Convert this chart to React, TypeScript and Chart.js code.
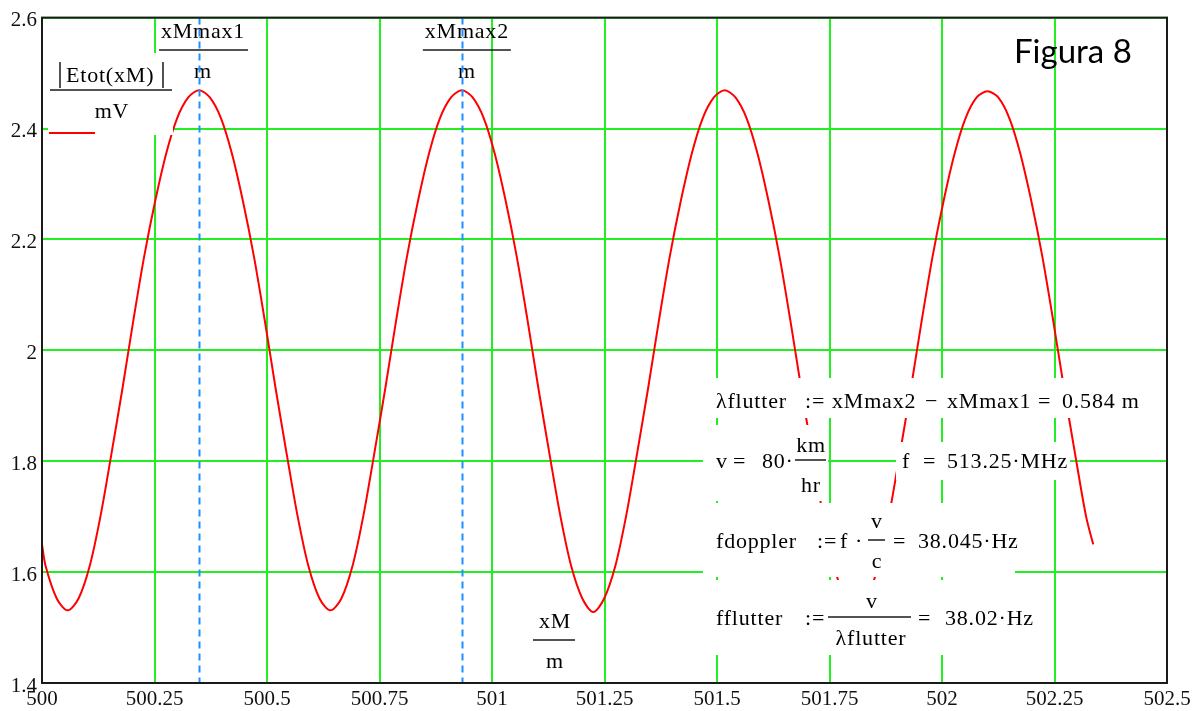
import React, { useEffect, useRef } from 'react';
import { Chart, registerables } from 'chart.js';

Chart.register(...registerables);

// Field strength |Etot(xM)| / mV along the receiver position xM / m
const xM = [
  500.0, 500.008, 500.033,
  500.057, 500.081, 500.106, 500.13, 500.154, 500.179, 500.203, 500.227, 500.252, 500.276, 500.3, 500.325,
  500.349, 500.373, 500.398, 500.422, 500.446, 500.471, 500.495, 500.519, 500.544, 500.568, 500.592, 500.617,
  500.641, 500.665, 500.69, 500.714, 500.738, 500.763, 500.787, 500.811, 500.836, 500.86, 500.884, 500.909,
  500.933, 500.957, 500.982, 501.006, 501.03, 501.055, 501.079, 501.103, 501.128, 501.152, 501.176, 501.201,
  501.225, 501.249, 501.274, 501.298, 501.322, 501.347, 501.371, 501.395, 501.42, 501.444, 501.468, 501.493,
  501.517, 501.541, 501.566, 501.59, 501.614, 501.639, 501.663, 501.687, 501.712, 501.736, 501.76, 501.785,
  501.809, 501.833, 501.858, 501.882, 501.906, 501.931, 501.955, 501.979, 502.004, 502.028, 502.052, 502.077,
  502.101, 502.125, 502.15, 502.174, 502.198, 502.223, 502.247, 502.271, 502.296, 502.32,
  502.336,
];

const etot = [
  1.65, 1.611, 1.552,
  1.531, 1.552, 1.611, 1.701, 1.812, 1.932, 2.054, 2.169, 2.271, 2.355, 2.418, 2.456,
  2.469, 2.456, 2.418, 2.355, 2.271, 2.169, 2.054, 1.932, 1.812, 1.701, 1.611, 1.552,
  1.531, 1.552, 1.611, 1.701, 1.812, 1.932, 2.054, 2.169, 2.271, 2.355, 2.418, 2.456,
  2.469, 2.456, 2.418, 2.355, 2.271, 2.169, 2.054, 1.932, 1.812, 1.701, 1.611, 1.552,
  1.528, 1.552, 1.611, 1.701, 1.812, 1.932, 2.054, 2.169, 2.271, 2.355, 2.418, 2.456,
  2.469, 2.456, 2.418, 2.355, 2.271, 2.169, 2.054, 1.932, 1.812, 1.701, 1.611, 1.552,
  1.531, 1.552, 1.611, 1.701, 1.812, 1.932, 2.054, 2.169, 2.271, 2.355, 2.418, 2.456,
  2.467, 2.456, 2.418, 2.355, 2.271, 2.169, 2.054, 1.932, 1.812, 1.701,
  1.65,
];

const xTickValues = [500, 500.25, 500.5, 500.75, 501, 501.25, 501.5, 501.75, 502, 502.25, 502.5];
const xTickLabels = ['500', '500.25', '500.5', '500.75', '501', '501.25', '501.5', '501.75', '502', '502.25', '502.5'];
const yTickValues = [1.4, 1.6, 1.8, 2.0, 2.2, 2.4, 2.6];
const yTickLabels = ['1.4', '1.6', '1.8', '2', '2.2', '2.4', '2.6'];

// Positions of the first two maxima (blue markers)
const xMmax1 = 500.349;
const xMmax2 = 500.933;

const SERIF = '"Liberation Serif", "Times New Roman", serif';
const GRID_GREEN = '#22ee22';

function txt(ctx: CanvasRenderingContext2D, s: string, x: number, y: number, align: CanvasTextAlign = 'left') {
  ctx.textAlign = align;
  ctx.fillText(s, x, y);
}

function bar(ctx: CanvasRenderingContext2D, x1: number, x2: number, y: number) {
  ctx.beginPath();
  ctx.moveTo(x1, y);
  ctx.lineTo(x2, y);
  ctx.stroke();
}

const worksheetOverlay = {
  id: 'worksheetOverlay',
  afterDatasetsDraw(chart: any) {
    const ctx: CanvasRenderingContext2D = chart.ctx;
    const { left, right, top, bottom } = chart.chartArea;
    const sx = chart.scales.x;
    ctx.save();

    // white backgrounds of the expression regions
    ctx.fillStyle = '#ffffff';
    const regions: [number, number, number, number][] = [
      [48, 53, 125, 82],
      [703, 378, 439, 40],
      [703, 425, 125, 76],
      [896, 442, 174, 38],
      [703, 503, 312, 74],
      [703, 580, 337, 75],
    ];
    for (const [x, y, w, h] of regions) ctx.fillRect(x, y, w, h);

    ctx.fillStyle = '#000000';
    ctx.strokeStyle = '#1a1a1a';
    ctx.lineWidth = 1.5;
    ctx.font = `22px ${SERIF}`;
    (ctx as any).letterSpacing = '0.8px';
    ctx.textBaseline = 'alphabetic';

    // y-axis expression with legend line
    ctx.beginPath();
    ctx.moveTo(60, 62); ctx.lineTo(60, 88);
    ctx.moveTo(163, 62); ctx.lineTo(163, 88);
    ctx.stroke();
    txt(ctx, 'Etot(xM)', 66, 82);
    bar(ctx, 50, 172, 90);
    txt(ctx, 'mV', 112, 118, 'center');
    ctx.save();
    ctx.strokeStyle = '#ff0000';
    ctx.lineWidth = 2;
    bar(ctx, 49, 95, 133);
    ctx.restore();

    // marker labels
    const p1 = sx.getPixelForValue(xMmax1) + 4;
    const p2 = sx.getPixelForValue(xMmax2) + 5;
    txt(ctx, 'xMmax1', p1, 38, 'center');
    bar(ctx, p1 - 44, p1 + 45, 50);
    txt(ctx, 'm', p1, 78, 'center');
    txt(ctx, 'xMmax2', p2, 38, 'center');
    bar(ctx, p2 - 44, p2 + 44, 50);
    txt(ctx, 'm', p2, 78, 'center');

    // x-axis expression
    txt(ctx, 'xM', 555, 628, 'center');
    bar(ctx, 533, 575, 640);
    txt(ctx, 'm', 555, 668, 'center');

    // worksheet equations
    txt(ctx, '\u03bbflutter', 716, 408);
    txt(ctx, ':=', 805, 408);
    txt(ctx, 'xMmax2', 832, 408);
    txt(ctx, '\u2212', 925, 408);
    txt(ctx, 'xMmax1', 947, 408);
    txt(ctx, '=', 1038, 408);
    txt(ctx, '0.584 m', 1062, 408);

    txt(ctx, 'v', 716, 468);
    txt(ctx, '=', 733, 468);
    txt(ctx, '80\u00b7', 762, 468);
    txt(ctx, 'km', 811, 452, 'center');
    bar(ctx, 795, 826, 460);
    txt(ctx, 'hr', 811, 492, 'center');
    txt(ctx, 'f', 902, 468);
    txt(ctx, '=', 923, 468);
    txt(ctx, '513.25\u00b7MHz', 947, 468);

    txt(ctx, 'fdoppler', 716, 548);
    txt(ctx, ':=', 817, 548);
    txt(ctx, 'f', 840, 548);
    txt(ctx, '\u00b7', 855, 548);
    txt(ctx, 'v', 877, 528, 'center');
    bar(ctx, 868, 885, 540);
    txt(ctx, 'c', 877, 568, 'center');
    txt(ctx, '=', 893, 548);
    txt(ctx, '38.045\u00b7Hz', 918, 548);

    txt(ctx, 'fflutter', 716, 625);
    txt(ctx, ':=', 805, 625);
    txt(ctx, 'v', 872, 608, 'center');
    bar(ctx, 828, 911, 617);
    txt(ctx, '\u03bbflutter', 871, 645, 'center');
    txt(ctx, '=', 918, 625);
    txt(ctx, '38.02\u00b7Hz', 945, 625);

    (ctx as any).letterSpacing = '0px';

    // blue dashed markers at the maxima
    ctx.save();
    ctx.strokeStyle = '#1e90ff';
    ctx.lineWidth = 2;
    ctx.setLineDash([7, 5]);
    for (const v of [xMmax1, xMmax2]) {
      const px = Math.round(sx.getPixelForValue(v)) + 0.5;
      ctx.beginPath();
      ctx.moveTo(px, top);
      ctx.lineTo(px, bottom);
      ctx.stroke();
    }
    ctx.restore();

    // plot frame
    ctx.strokeStyle = '#1a1a1a';
    ctx.lineWidth = 2;
    ctx.setLineDash([]);
    ctx.strokeRect(left, top, right - left, bottom - top);

    // figure caption
    ctx.fillStyle = '#000000';
    ctx.font = '33px Lato, "Open Sans", sans-serif';
    txt(ctx, 'Figura 8', 1014, 63);

    ctx.restore();
  },
};

export default function App() {
  const canvasRef = useRef<HTMLCanvasElement | null>(null);

  useEffect(() => {
    document.body.style.margin = '0';
    const canvas = canvasRef.current;
    if (!canvas) return;
    const chart = new Chart(canvas, {
      type: 'line',
      data: {
        datasets: [
          {
            label: '|Etot(xM)| / mV',
            data: xM.map((x, i) => ({ x, y: etot[i] })),
            borderColor: '#ff0000',
            borderWidth: 2,
            pointRadius: 0,
            tension: 0.3,
            fill: false,
          },
        ],
      },
      options: {
        responsive: false,
        animation: false,
        devicePixelRatio: 1,
        layout: { padding: { left: 0, top: 16, right: 33, bottom: 0 } },
        plugins: { legend: { display: false }, tooltip: { enabled: false } },
        scales: {
          x: {
            type: 'linear',
            min: 500,
            max: 502.5,
            afterBuildTicks: (scale: any) => {
              scale.ticks = xTickValues.map((value) => ({ value }));
            },
            afterFit: (scale: any) => {
              scale.height = 28;
            },
            grid: { color: GRID_GREEN, lineWidth: 2, drawTicks: false },
            border: { display: false },
            ticks: {
              padding: 4,
              maxRotation: 0,
              autoSkip: false,
              color: '#111111',
              font: { family: SERIF, size: 21 },
              callback: (_v: any, i: number) => xTickLabels[i],
            },
          },
          y: {
            type: 'linear',
            min: 1.4,
            max: 2.6,
            afterBuildTicks: (scale: any) => {
              scale.ticks = yTickValues.map((value) => ({ value }));
            },
            afterFit: (scale: any) => {
              scale.width = 42;
            },
            grid: { color: GRID_GREEN, lineWidth: 2, drawTicks: false },
            border: { display: false },
            ticks: {
              padding: 5,
              labelOffset: 3,
              autoSkip: false,
              color: '#111111',
              font: { family: SERIF, size: 21 },
              callback: (_v: any, i: number) => yTickLabels[i],
            },
          },
        },
      },
      plugins: [worksheetOverlay],
    } as any);
    return () => chart.destroy();
  }, []);

  return <canvas ref={canvasRef} width={1200} height={711} style={{ display: 'block' }} />;
}
